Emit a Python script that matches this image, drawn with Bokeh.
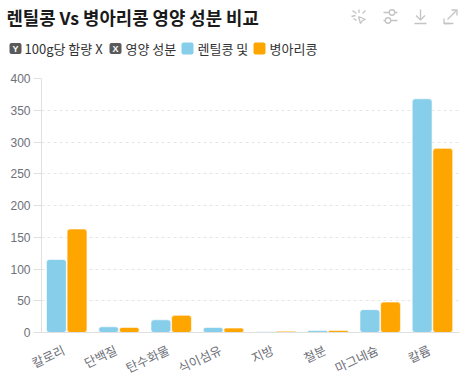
from bokeh.plotting import figure
from bokeh.layouts import column
from bokeh.models import Range1d, FixedTicker, LinearAxis
from bokeh.transform import dodge
from bokeh.core.properties import value
from bokeh.embed import file_html
from bokeh.resources import INLINE

categories = ["칼로리", "단백질", "탄수화물", "식이섬유", "지방", "철분", "마그네슘", "칼륨"]
lentil = [115, 9, 20, 8, 1, 3, 36, 368]
chickpea = [163, 8, 27, 7, 2, 3, 48, 290]
y_ticks = [0, 50, 100, 150, 200, 250, 300, 350, 400]
title_text = "렌틸콩 Vs 병아리콩 영양 성분 비교"
series_names = ["렌틸콩 및", "병아리콩"]
colors = ["#87CEEB", "#FFA500"]
FONT = "Noto Sans CJK KR"
LATIN = "Liberation Sans"
AXIS = "#E0E0E0"
GRID = "#E6E6E6"
ICON = "#C4C4C4"
W, H, HEAD = 462, 377, 70
BAND = 418 / len(categories)
LABEL_SHIFT = 4 / BAND

# ---------- header: title, legend, toolbox, in pixel-like coordinates
head = figure(width=W, height=HEAD, output_backend="svg", toolbar_location=None,
              x_range=Range1d(0, W), y_range=Range1d(HEAD, 0),
              min_border=0, x_axis_type=None, y_axis_type=None)
head.grid.visible = False
head.outline_line_color = None
head.frame_align = False


def label(x, y, text, size="13px", color="#333333", style="normal", align="left", font=FONT):
    head.text(x=[x], y=[y], text=[text], text_font=value(font), text_font_size=value(size),
              text_color=color, text_font_style=style, text_baseline="middle", text_align=align)


def box(x0, y0, x1, y1, color):
    head.quad(left=[x0], right=[x1], top=[y0], bottom=[y1], fill_color=color, line_color=None,
              border_radius=2)


label(6, 16, title_text, size="17.8px", color="#1a1a1a", style="bold")

box(9, 42.5, 21, 53.5, "#5A5A5A")
label(15, 48, "Y", size="9px", color="white", style="bold", align="center", font=LATIN)
label(24, 48, "100g당 함량 X")
box(109, 42.5, 121, 53.5, "#5A5A5A")
label(115, 48, "X", size="9px", color="white", style="bold", align="center", font=LATIN)
label(125, 48, "영양 성분")
box(181, 42, 193, 54, colors[0])
label(197, 48, series_names[0])
box(253, 42, 265, 54, colors[1])
label(269, 48, series_names[1])

icon_x = [
    [358, 365, 362, 360, 358], [352, 356], [358.5, 358.5], [365, 362], [351, 355], [353, 356],
    [383, 389], [394, 397], [383, 385], [390, 397],
    [420, 420], [415.5, 420, 424.5], [414, 426],
    [447, 456], [451, 456.5, 456.5], [443.5, 443.5, 449], [443.5, 453],
]
icon_y = [
    [16, 19, 20, 23, 16], [10, 13], [9, 12.5], [10, 13], [16, 15], [18, 20],
    [12, 12], [12, 12], [20, 20], [20, 20],
    [9, 19], [15, 19.5, 15], [23, 23],
    [19, 10], [9.5, 9.5, 15], [18, 23, 23], [23, 23],
]
head.multi_line(xs=icon_x, ys=icon_y, line_color=ICON, line_width=1.3)
head.scatter(x=[391.5, 387.5], y=[12, 20], size=5.5, fill_color="white", line_color=ICON, line_width=1.3)

# ---------- chart
p = figure(width=W, height=H - HEAD, output_backend="svg", toolbar_location=None,
           x_range=Range1d(0, len(categories)),
           y_range=Range1d(0, 400),
           min_border_left=41, min_border_right=3, min_border_top=8, min_border_bottom=20)
p.frame_width = 418
p.frame_height = 254
p.frame_align = False
p.outline_line_color = None
p.background_fill_color = "white"
p.xgrid.grid_line_color = None
p.ygrid.grid_line_color = GRID
p.ygrid.grid_line_dash = "3 3"
p.ygrid.ticker = FixedTicker(ticks=y_ticks)

p.yaxis.ticker = FixedTicker(ticks=y_ticks)
p.yaxis.axis_line_color = AXIS
p.yaxis.major_tick_line_color = AXIS
p.yaxis.major_tick_out = 8
p.yaxis.major_tick_in = 0
p.yaxis.minor_tick_line_color = None
p.yaxis.major_label_text_color = "#6E7079"
p.yaxis.major_label_text_font = LATIN
p.yaxis.major_label_text_font_size = "12px"
p.yaxis.major_label_standoff = 3

p.xaxis.visible = False
p.extra_x_ranges["labels"] = Range1d(LABEL_SHIFT, len(categories) + LABEL_SHIFT)
tick_pos = [i + 0.5 for i in range(len(categories))]
xaxis = LinearAxis(x_range_name="labels", ticker=FixedTicker(ticks=tick_pos),
                   major_label_overrides={t: c for t, c in zip(tick_pos, categories)})
xaxis.axis_line_color = AXIS
xaxis.major_tick_line_color = None
xaxis.minor_tick_line_color = None
xaxis.major_label_text_color = "#6E7079"
xaxis.major_label_text_font = FONT
xaxis.major_label_text_font_size = "12.5px"
xaxis.major_label_orientation = 0.44
xaxis.major_label_standoff = 10
p.add_layout(xaxis, "below")

data = dict(pos=tick_pos, a=lentil, b=chickpea)
p.vbar(x=dodge("pos", -0.215), top="a", width=0.38, source=data,
       fill_color=colors[0], line_color="white", line_alpha=0.6, line_width=1, border_radius=3)
p.vbar(x=dodge("pos", 0.18), top="b", width=0.38, source=data,
       fill_color=colors[1], line_color="white", line_alpha=0.6, line_width=1, border_radius=3)

page = column(head, p, spacing=0)
open("out.html", "w").write(file_html(page, INLINE))
